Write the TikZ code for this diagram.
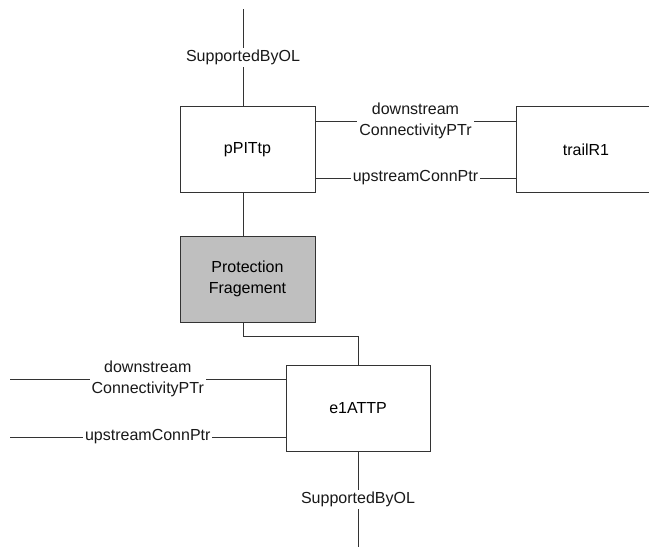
\documentclass[tikz,border=0pt]{standalone}
\usepackage{fontspec}
\setmainfont{Liberation Sans}
\usetikzlibrary{positioning}

\begin{document}
\begin{tikzpicture}[x=1pt,y=-1pt,line width=0.9pt,draw=black!80,
    font=\fontsize{16}{20.5}\selectfont,
    obj/.style={rectangle,draw=black!80,minimum width=135pt,minimum height=86pt,align=center},
    lbl/.style={fill=white,inner sep=2pt,align=center,text=black!90}]
        \useasboundingbox (0,0) rectangle (649,547);
        % 绘制对象
        \node[obj] (pPITtp) at (247.5,149.5) {pPITtp};
        \node[obj,minimum width=140pt] (trailR1) at (586,149.5) {trailR1};
        \node[obj,fill=black!25] (prot) at (247.5,279) {Protection\\Fragement};
        \node[obj,minimum width=144pt] (e1ATTP) at (358,408) {e1ATTP};

        % 线的端点
        \coordinate (topend) at (243,9);
        \coordinate (bend) at (243,336);
        \coordinate (botend) at (358,547);
        \coordinate (dsend) at (10,379);
        \coordinate (usend) at (10,437);

        % 连接上面
        \draw (topend) -- node[lbl] {SupportedByOL} (topend |- pPITtp.north);
        \draw ([yshift=28.5pt]pPITtp.east) -- node[lbl] {downstream\\ConnectivityPTr} ([yshift=28.5pt]trailR1.west);
        \draw ([yshift=-28.5pt]pPITtp.east) -- node[lbl] {upstreamConnPtr} ([yshift=-28.5pt]trailR1.west);
        \draw (topend |- pPITtp.south) -- (topend |- prot.north);
        \draw (topend |- prot.south) -- (bend) -| (e1ATTP.north);

        % 连接下面
        \draw (dsend) -- node[lbl] {downstream\\ConnectivityPTr} (dsend -| e1ATTP.west);
        \draw (usend) -- node[lbl] {upstreamConnPtr} (usend -| e1ATTP.west);
        \draw (e1ATTP.south) -- node[lbl] {SupportedByOL} (botend);
    \end{tikzpicture}
\end{document}
